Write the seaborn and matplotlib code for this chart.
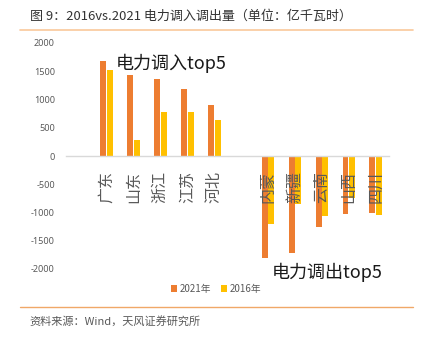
import matplotlib
matplotlib.use("Agg")
import matplotlib.pyplot as plt
from matplotlib.lines import Line2D
from matplotlib.patches import Patch
import seaborn as sns
import pandas as pd

sns.set_theme(style="white")
plt.rcParams['font.family'] = ['Noto Sans CJK SC', 'DejaVu Sans']

# ---- data ----
categories = ["", "广东", "山东", "浙江", "江苏", "河北", " ", "内蒙", "新疆", "云南", "山西", "四川"]
data_cats = ["广东", "山东", "浙江", "江苏", "河北", "内蒙", "新疆", "云南", "山西", "四川"]
values_2021 = [1690, 1430, 1360, 1190, 910, -1810, -1710, -1250, -1020, -1000]
values_2016 = [1525, 285, 780, 785, 645, -1195, -845, -1060, -750, -1050]
series = ["2021年", "2016年"]
colors = ["#ED7D31", "#FFC000"]
yticks = [2000, 1500, 1000, 500, 0, -500, -1000, -1500, -2000]

df = pd.DataFrame({
    "cat": data_cats * 2,
    "year": [series[0]] * len(data_cats) + [series[1]] * len(data_cats),
    "value": values_2021 + values_2016,
})

fig = plt.figure(figsize=(4.29, 3.37), dpi=100)
ax = fig.add_axes([66 / 429, 1 - 269 / 337, 323.3 / 429, 226 / 337])

sns.barplot(data=df, x="cat", y="value", hue="year", order=categories,
            hue_order=series, palette=colors, saturation=1, width=0.5, gap=0.12,
            linewidth=0, ax=ax, legend=False)

for s in ["top", "right", "left"]:
    ax.spines[s].set_visible(False)
ax.spines["bottom"].set_position(("data", 0))
ax.spines["bottom"].set_color("#D9D9D9")
ax.spines["bottom"].set_linewidth(1.0)
ax.grid(False)
ax.set_axisbelow(False)

ax.set_ylim(-2000, 2000)
ax.set_xlim(-0.5, len(categories) - 0.5)
ax.set_yticks(yticks)
ax.set_yticklabels([str(v) for v in yticks], fontsize=6.5, color="#595959",
                   family=['Noto Sans', 'DejaVu Sans'])
ax.tick_params(axis="y", length=0, pad=8)
ax.set_xticks(range(len(categories)))
ax.set_xticklabels(categories, rotation=90, fontsize=11.5, color="#595959")
ax.tick_params(axis="x", length=0, pad=11)
ax.set_xlabel("")
ax.set_ylabel("")

ax.text(0.155, 0.912, "电力调入top5", transform=ax.transAxes, fontsize=13,
        color="#1a1a1a", ha="left", va="center")
ax.text(0.637, -0.013, "电力调出top5", transform=ax.transAxes, fontsize=13,
        color="#1a1a1a", ha="left", va="center")

handles = [Patch(facecolor=c, edgecolor="none") for c in colors]
fig.legend(handles, series, loc="center", bbox_to_anchor=(216 / 429, 1 - 289 / 337),
           ncol=2, frameon=False, fontsize=7, handlelength=0.6, handleheight=0.6,
           handletextpad=0.3, columnspacing=1.0, labelcolor="#595959")

# title, separators, source
fig.text(30 / 429, 1 - 16 / 337, "图 9：2016vs.2021 电力调入调出量（单位：亿千瓦时）",
         fontsize=9.4, color="#333333", ha="left", va="center")
fig.add_artist(Line2D([20 / 429, 413 / 429], [1 - 29.5 / 337, 1 - 29.5 / 337],
                      transform=fig.transFigure, color="#F9C89B", linewidth=1.2))
fig.add_artist(Line2D([20 / 429, 413 / 429], [1 - 307 / 337, 1 - 307 / 337],
                      transform=fig.transFigure, color="#F0A868", linewidth=1.0))
fig.text(29 / 429, 1 - 321 / 337, "资料来源：Wind，天风证券研究所",
         fontsize=8, color="#595959", ha="left", va="center")

fig.savefig("out.png", dpi=100)
